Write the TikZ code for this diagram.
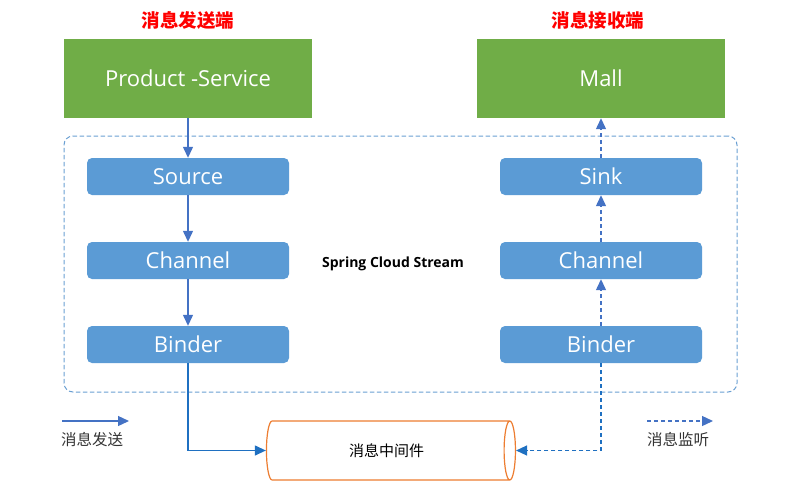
\documentclass[tikz,border=0pt]{standalone}
\usepackage{fontspec}
\setmainfont{Open Sans}
\newfontfamily\cjk{Noto Sans CJK SC}
\usetikzlibrary{arrows.meta,shapes.geometric}
\definecolor{endgreen}{HTML}{70AD47}
\definecolor{partblue}{HTML}{5B9BD5}
\definecolor{flowblue}{HTML}{4472C4}
\definecolor{busblue}{HTML}{1F70C1}
\definecolor{framblue}{HTML}{6A9FD2}
\definecolor{mqorange}{HTML}{ED7D31}
\tikzset{
  endbox/.style={rectangle, fill=endgreen, text=white, minimum width=248pt,
    minimum height=79pt, font=\fontsize{22}{26}\selectfont},
  partbox/.style={rectangle, rounded corners=5pt, fill=partblue, text=white,
    minimum width=202pt, minimum height=37pt, font=\fontsize{22}{26}\selectfont},
  sidetitle/.style={text=red, font=\cjk\bfseries\fontsize{18.5}{22}\selectfont},
  legendtxt/.style={text=black!80, font=\cjk\fontsize{15.5}{18}\selectfont},
  sendline/.style={draw=flowblue, line width=1.3pt, -{Triangle[length=11pt,width=10pt]}},
  listenline/.style={draw=flowblue, line width=1.3pt, dash pattern=on 4pt off 3pt,
    -{Triangle[length=11pt,width=10pt]}},
}
\newcommand{\pushmsg}[2]{
  \draw [sendline] (#1) to (#2)
}
\newcommand{\pullmsg}[2]{
  \draw [listenline] (#1) to (#2)
}

\begin{document}
\begin{tikzpicture}[x=1pt,y=-1pt]
\useasboundingbox (0,0) rectangle (808,485);

% frame of the stream
\node (stream) at (400.5,264) [draw=framblue, line width=1pt, dash pattern=on 4.5pt off 2.5pt,
  rounded corners=9pt, minimum width=673pt, minimum height=256pt] {};
\node (streamtxt) at (393,264) [font=\bfseries\fontsize{14}{17}\selectfont] {Spring Cloud Stream};

% titles
\node (sendtitle) at (188,20) [sidetitle] {消息发送端};
\node (recvtitle) at (598,20) [sidetitle] {消息接收端};

% services
\node (prod) at (188,78.5) [endbox] {Product -Service};
\node (mall) at (601,78.5) [endbox] {Mall};

% sending side
\node (src)   at (188,176.5) [partbox] {Source};
\node (chan1) at (188,260.5) [partbox] {Channel};
\node (bind1) at (188,344.5) [partbox] {Binder};

% receiving side
\node (sink)  at (601,176.5) [partbox] {Sink};
\node (chan2) at (601,260.5) [partbox] {Channel};
\node (bind2) at (601,344.5) [partbox] {Binder};

% middleware
\node (mq) at (386.5,450.5) [cylinder, draw=mqorange, line width=1.2pt, fill=white,
  minimum height=249pt, minimum width=59pt, aspect=0.55,
  font=\cjk\fontsize{15}{18}\selectfont] {消息中间件};

% legend
\coordinate (sendfrom) at (62,421);
\coordinate (sendto) at (129,421);
\node (sendtxt) at (92,440) [legendtxt] {消息发送};
\coordinate (listenfrom) at (647,421);
\coordinate (listento) at (713,421);
\node (listentxt) at (678,440) [legendtxt] {消息监听};

% connect sending side
\pushmsg {prod.south} {src.north};
\pushmsg {src} {chan1};
\pushmsg {chan1} {bind1};
\draw [sendline, draw=busblue] (bind1.south) |- (mq.west);

% connect receiving side
\draw [listenline, draw=busblue] (bind2.south) |- (mq.east);
\pullmsg {bind2} {chan2};
\pullmsg {chan2} {sink};
\pullmsg {sink.north} {mall.south};

% connect legend
\pushmsg {sendfrom} {sendto};
\pullmsg {listenfrom} {listento};

\end{tikzpicture}
\end{document}
